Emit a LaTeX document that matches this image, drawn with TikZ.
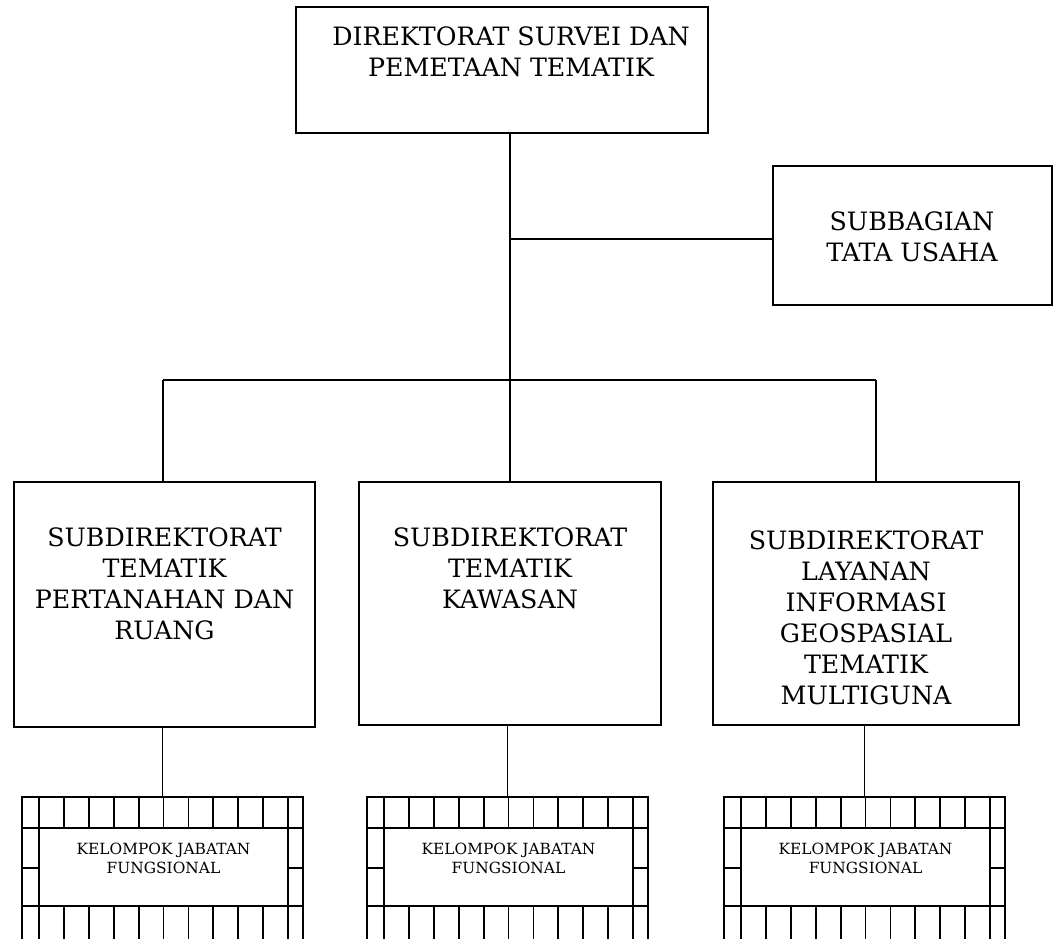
\documentclass[tikz,border=0pt]{standalone}
\usepackage{fontspec}
\setmainfont{DejaVu Serif}
\begin{document}
\begin{tikzpicture}[x=1pt,y=-1pt,
  box/.style={draw, line width=1.7pt, inner sep=0pt},
  lbl/.style={inner sep=0pt, align=center, anchor=north, font=\fontsize{25.3}{31}\selectfont},
  smalllbl/.style={inner sep=0pt, align=center, anchor=north, font=\fontsize{15.4}{19}\selectfont},
  link/.style={line width=1.6pt},
  tile/.style={line width=1.8pt}]
\useasboundingbox (0,0) rectangle (1056,938);
\clip (0,0) rectangle (1056,938);

% boxes
\node[box, minimum width=412pt, minimum height=126pt] (top) at (502,70) {};
\node[box, minimum width=279pt, minimum height=139pt] (tu) at (912.5,235.5) {};
\node[box, minimum width=301pt, minimum height=245pt] (s1) at (164.5,604.5) {};
\node[box, minimum width=302pt, minimum height=243pt] (s2) at (510,603.5) {};
\node[box, minimum width=306pt, minimum height=243pt] (s3) at (866,603.5) {};

% box texts
\node[lbl] (top-t) at (511,27) {DIREKTORAT SURVEI DAN\\PEMETAAN TEMATIK};
\node[lbl] (tu-t) at (912,212) {SUBBAGIAN\\TATA USAHA};
\node[lbl] (s1-t) at (164.5,528) {SUBDIREKTORAT\\TEMATIK\\PERTANAHAN DAN\\RUANG};
\node[lbl] (s2-t) at (510,528) {SUBDIREKTORAT\\TEMATIK\\KAWASAN};
\node[lbl] (s3-t) at (866,531) {SUBDIREKTORAT\\LAYANAN\\INFORMASI\\GEOSPASIAL\\TEMATIK\\MULTIGUNA};

% connectors
\coordinate (hub) at (510,239);
\coordinate (bus) at (510,380);
\coordinate (busL) at (163,380);
\coordinate (busR) at (876,380);
\draw[link] (bus |- top.south) -- (bus);
\draw[link] (hub) -- (hub -| tu.west);
\draw[link] (busL) -- (busR);
\draw[link] (busL) -- (busL |- s1.north);
\draw[link] (bus) -- (s2.north);
\draw[link] (busR) -- (busR |- s3.north);

% functional groups with tiled frames
\foreach \x/\i in {22/1, 367/2, 724/3} {
  \coordinate (g\i) at (\x+140.5,797);
  \draw[link] (s\i.south -| g\i) -- (g\i);
  \draw[tile] (\x,940) -- (\x,797) -- (\x+281,797) -- (\x+281,940);
  \draw[tile] (\x,828) -- (\x+281,828);
  \draw[tile] (\x,906) -- (\x+281,906);
  \draw[tile] (\x,868) -- (\x+17,868);
  \draw[tile] (\x+266,868) -- (\x+281,868);
  \foreach \k in {0,...,10} {
    \draw[tile] (\x+17+24.9*\k,797) -- (\x+17+24.9*\k,828);
    \draw[tile] (\x+17+24.9*\k,906) -- (\x+17+24.9*\k,940);
  }
  \node[box, fill=white, minimum width=249pt, minimum height=78pt] (kjf\i) at (\x+141.5,867) {};
  \node[smalllbl] (kjf\i-t) at (\x+141.5,843) {KELOMPOK JABATAN\\FUNGSIONAL};
}
\end{tikzpicture}
\end{document}
